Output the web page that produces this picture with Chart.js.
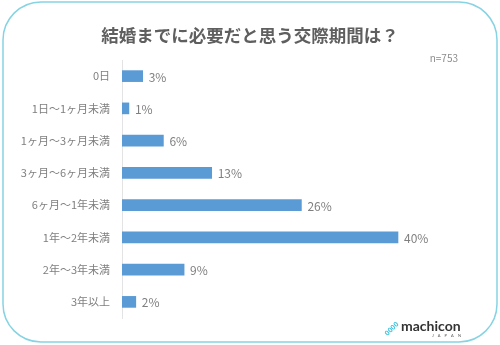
<!DOCTYPE html>
<html>
<head>
<meta charset="utf-8">
<script src="https://cdn.jsdelivr.net/npm/chart.js@4"></script>
<style>
  body { margin: 0; background: #fff; }
  canvas { display: block; }
</style>
</head>
<body>
<canvas id="chart" width="500" height="345"></canvas>
<script>
const categories = ["0日", "1日～1ヶ月未満", "1ヶ月～3ヶ月未満", "3ヶ月～6ヶ月未満", "6ヶ月～1年未満", "1年～2年未満", "2年～3年未満", "3年以上"];
const percents = [3, 1, 6, 13, 26, 40, 9, 2];
const chartTitle = "結婚までに必要だと思う交際期間は？";
const sampleNote = "n=753";

const FONT = "'Noto Sans CJK JP', 'Noto Sans', sans-serif";

// frame, title, note, value labels and logo
const decorations = {
  id: "decorations",
  beforeDraw(chart) {
    const ctx = chart.ctx;
    ctx.save();
    ctx.fillStyle = "#fff";
    ctx.fillRect(0, 0, chart.width, chart.height);
    ctx.strokeStyle = "#86d3e3";
    ctx.lineWidth = 1.5;
    ctx.beginPath();
    ctx.roundRect(3, 2, 494, 340, 38);
    ctx.stroke();
    ctx.restore();
  },
  afterDraw(chart) {
    const ctx = chart.ctx;
    ctx.save();
    ctx.fillStyle = "#5f5f5f";
    ctx.font = "bold 17.5px " + FONT;
    ctx.textAlign = "center";
    ctx.textBaseline = "middle";
    ctx.fillText(chartTitle, 250, 35);

    ctx.fillStyle = "#8c8c8c";
    ctx.font = "10px " + FONT;
    ctx.textAlign = "right";
    ctx.fillText(sampleNote, 458, 58);

    // value labels
    ctx.fillStyle = "#7f7f7f";
    ctx.font = "12px " + FONT;
    ctx.textAlign = "left";
    const meta = chart.getDatasetMeta(0);
    meta.data.forEach((bar, i) => {
      ctx.fillText(percents[i] + "%", bar.x + 6, bar.y + 1);
    });

    // logo
    ctx.fillStyle = "#3cc0dc";
    ctx.font = "bold 7px " + FONT;
    ctx.translate(392, 328);
    ctx.rotate(-Math.PI / 4);
    ctx.fillText("0000", -9, 0);
    ctx.restore();
    ctx.save();
    ctx.fillStyle = "#333";
    ctx.font = "bold 14px Lato, sans-serif";
    ctx.textAlign = "left";
    ctx.textBaseline = "alphabetic";
    ctx.fillText("machicon", 401, 331);
    ctx.font = "4px Lato, sans-serif";
    ctx.fillStyle = "#555";
    ctx.fillText("J    A    P    A    N", 432, 337);
    ctx.restore();
  }
};

new Chart(document.getElementById("chart"), {
  type: "bar",
  data: {
    labels: categories,
    datasets: [{
      data: percents,
      backgroundColor: "#5b9bd5",
      barThickness: 11
    }]
  },
  options: {
    indexAxis: "y",
    responsive: false,
    animation: false,
    layout: { padding: { top: 60, bottom: 27, left: 0, right: 33 } },
    plugins: {
      legend: { display: false },
      tooltip: { enabled: false }
    },
    scales: {
      x: { display: false, min: 0, max: 50 },
      y: {
        afterFit(scale) { scale.width = 122; },
        grid: { display: false, drawTicks: false },
        border: { display: true, color: "#e3e3e3", width: 1 },
        ticks: {
          color: "#7f7f7f",
          padding: 12,
          font: { family: FONT, size: 11 }
        }
      }
    }
  },
  plugins: [decorations]
});
</script>
</body>
</html>
